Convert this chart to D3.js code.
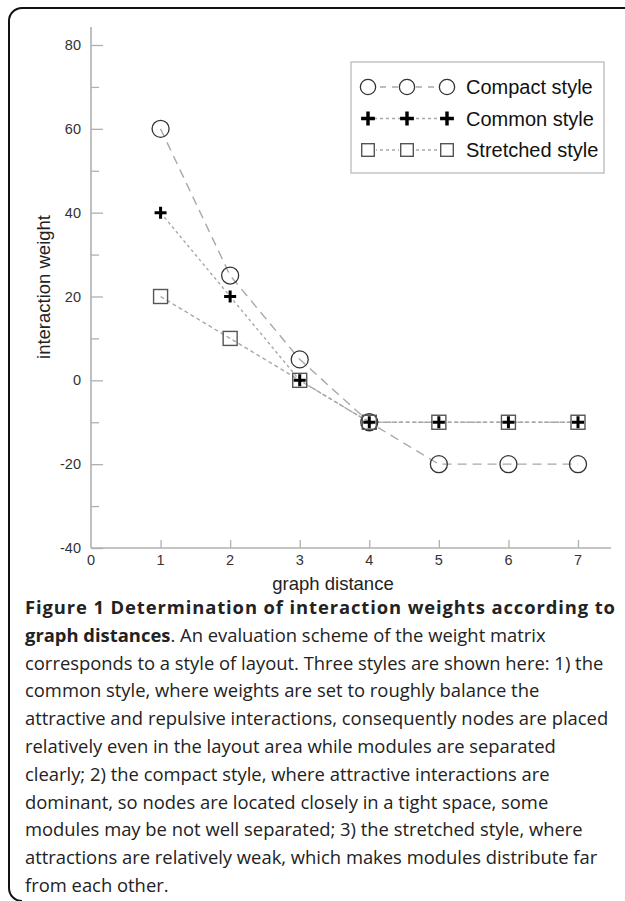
<!DOCTYPE html>
<html>
<head>
<meta charset="utf-8">
<script src="https://cdn.jsdelivr.net/npm/d3@7"></script>
<style>
    body { margin: 0; background: #fff; overflow: hidden; }
    svg { display: block; }
</style>
</head>
<body>
<div id="chart"></div>
<script>
// chart data
var distances = [1, 2, 3, 4, 5, 6, 7];
var compactStyle = [60, 25, 5, -10, -20, -20, -20];
var commonStyle = [40, 20, 0, -10, -10, -10, -10];
var stretchedStyle = [20, 10, 0, -10, -10, -10, -10];
var xTicks = [0, 1, 2, 3, 4, 5, 6, 7];
var yTicks = [-40, -20, 0, 20, 40, 60, 80];
var yMinorTicks = [-30, -10, 10, 30, 50, 70];
var legendLabels = ["Compact style", "Common style", "Stretched style"];

var captionLines = [
    [["b", "Figure 1 Determination of interaction weights according to"]],
    [["b", "graph distances"], ["n", ". An evaluation scheme of the weight matrix"]],
    [["n", "corresponds to a style of layout. Three styles are shown here: 1) the"]],
    [["n", "common style, where weights are set to roughly balance the"]],
    [["n", "attractive and repulsive interactions, consequently nodes are placed"]],
    [["n", "relatively even in the layout area while modules are separated"]],
    [["n", "clearly; 2) the compact style, where attractive interactions are"]],
    [["n", "dominant, so nodes are located closely in a tight space, some"]],
    [["n", "modules may be not well separated; 3) the stretched style, where"]],
    [["n", "attractions are relatively weak, which makes modules distribute far"]],
    [["n", "from each other."]]
];

var svgWidth = 625;
var svgHeight = 901;

var svg = d3.select("#chart")
    .append("svg")
    .attr("width", svgWidth)
    .attr("height", svgHeight);

// card frame: top and left edges with rounded corners
svg.append("path")
    .attr("d", "M625,8H22A13,13 0 0 0 9,21V888A13,13 0 0 0 22,901")
    .attr("fill", "none")
    .attr("stroke", "#111")
    .attr("stroke-width", 2);

// scales
var x = d3.scaleLinear().domain([0, 7]).range([91, 578]);
var y = d3.scaleLinear().domain([-40, 80]).range([548, 45]);

var axisColor = "#b0b0b0";
var chartFont = "'Liberation Sans', Arial, sans-serif";

// y axis (ticks point inside)
var yAxis = svg.append("g")
    .attr("transform", `translate(${x(0)}, 0)`)
    .call(d3.axisRight(y).tickValues(yTicks).tickSize(12).tickFormat(""));
yAxis.select(".domain").remove();
yAxis.selectAll("line").attr("stroke", axisColor).attr("stroke-width", 1.3);

var yMinor = svg.append("g")
    .attr("transform", `translate(${x(0)}, 0)`)
    .call(d3.axisRight(y).tickValues(yMinorTicks).tickSize(8).tickFormat(""));
yMinor.select(".domain").remove();
yMinor.selectAll("line").attr("stroke", axisColor).attr("stroke-width", 1.3);

svg.append("line")
    .attr("x1", x(0)).attr("x2", x(0))
    .attr("y1", 27).attr("y2", y(-40))
    .attr("stroke", axisColor)
    .attr("stroke-width", 1.6);

svg.selectAll(".ylabel")
    .data(yTicks)
    .enter()
    .append("text")
    .attr("class", "ylabel")
    .attr("x", x(0) - 10)
    .attr("y", d => y(d))
    .attr("dy", "0.35em")
    .attr("text-anchor", "end")
    .attr("font-family", chartFont)
    .attr("font-size", 14.5)
    .attr("fill", "#333")
    .text(d => d);

// x axis (ticks point up)
var xAxis = svg.append("g")
    .attr("transform", `translate(0, ${y(-40)})`)
    .call(d3.axisTop(x).tickValues(distances).tickSize(8).tickFormat(""));
xAxis.select(".domain").remove();
xAxis.selectAll("line").attr("stroke", axisColor).attr("stroke-width", 1.3);

svg.append("line")
    .attr("x1", x(0)).attr("x2", 611)
    .attr("y1", y(-40)).attr("y2", y(-40))
    .attr("stroke", axisColor)
    .attr("stroke-width", 1.6);

svg.selectAll(".xlabel")
    .data(xTicks)
    .enter()
    .append("text")
    .attr("class", "xlabel")
    .attr("x", d => x(d))
    .attr("y", y(-40) + 12)
    .attr("dy", "0.35em")
    .attr("text-anchor", "middle")
    .attr("font-family", chartFont)
    .attr("font-size", 14.5)
    .attr("fill", "#333")
    .text(d => d);

// axis titles
svg.append("text")
    .attr("transform", "translate(50, 287) rotate(-90)")
    .attr("text-anchor", "middle")
    .attr("font-family", chartFont)
    .attr("font-size", 18.5)
    .attr("fill", "#222")
    .text("interaction weight");

svg.append("text")
    .attr("x", 333)
    .attr("y", 590)
    .attr("text-anchor", "middle")
    .attr("font-family", chartFont)
    .attr("font-size", 18.5)
    .attr("fill", "#222")
    .text("graph distance");

// series
var series = [
    { name: legendLabels[0], values: compactStyle, marker: "circle", dash: "9,6" },
    { name: legendLabels[1], values: commonStyle, marker: "cross", dash: "3,3" },
    { name: legendLabels[2], values: stretchedStyle, marker: "square", dash: "4,3" }
];

var line = d3.line()
    .x((d, i) => x(distances[i]))
    .y(d => y(d));

svg.selectAll(".series-line")
    .data(series)
    .enter()
    .append("path")
    .attr("class", "series-line")
    .attr("d", d => line(d.values))
    .attr("fill", "none")
    .attr("stroke", "#a8a8a8")
    .attr("stroke-width", 1.4)
    .attr("stroke-dasharray", d => d.dash);

function drawMarker(g, type, cx, cy, scale) {
    if (type === "circle") {
        g.append("circle")
            .attr("cx", cx).attr("cy", cy)
            .attr("r", 8.5 * scale)
            .attr("fill", "none")
            .attr("stroke", "#333")
            .attr("stroke-width", 1.3);
    }
    else if (type === "square") {
        var s = 14 * scale;
        g.append("rect")
            .attr("x", cx - s / 2).attr("y", cy - s / 2)
            .attr("width", s).attr("height", s)
            .attr("fill", "none")
            .attr("stroke", "#555")
            .attr("stroke-width", 1.4);
    }
    else {
        var h = 6 * scale;
        g.append("path")
            .attr("d", `M${cx - h},${cy}H${cx + h}M${cx},${cy - h}V${cy + h}`)
            .attr("stroke", "#000")
            .attr("stroke-width", 3 * scale);
    }
}

var markerGroup = svg.append("g");
["circle", "square", "cross"].forEach(function(type) {
    var s = series.find(d => d.marker === type);
    s.values.forEach(function(v, i) {
        drawMarker(markerGroup, type, x(distances[i]), y(v), 1);
    });
});

// legend
var legend = svg.append("g");
legend.append("rect")
    .attr("x", 351).attr("y", 62)
    .attr("width", 253).attr("height", 111)
    .attr("fill", "#fff")
    .attr("stroke", "#bbb")
    .attr("stroke-width", 1.3);

var legendX = [368, 407, 447];
series.forEach(function(s, i) {
    var ly = 87 + i * 31.5;
    legend.append("line")
        .attr("x1", legendX[0]).attr("x2", legendX[2])
        .attr("y1", ly).attr("y2", ly)
        .attr("stroke", "#a8a8a8")
        .attr("stroke-width", 1.4)
        .attr("stroke-dasharray", s.marker === "circle" ? "6,6" : "3,3");
    legendX.forEach(function(lx) {
        if (s.marker !== "cross") {
            legend.append("rect")
                .attr("x", lx - 8).attr("y", ly - 8)
                .attr("width", 16).attr("height", 16)
                .attr("fill", "#fff");
        }
        drawMarker(legend, s.marker, lx, ly, s.marker === "cross" ? 1.15 : 0.9);
    });
    legend.append("text")
        .attr("x", 466)
        .attr("y", ly)
        .attr("dy", "0.35em")
        .attr("font-family", chartFont)
        .attr("font-size", 20)
        .attr("fill", "#111")
        .text(s.name);
});

// caption
var caption = svg.append("text")
    .attr("font-family", "'Open Sans', 'Noto Sans', sans-serif")
    .attr("font-size", 18.4)
    .attr("fill", "#222");

captionLines.forEach(function(parts, i) {
    var row = caption.append("tspan")
        .attr("x", 25)
        .attr("y", 614 + i * 27.8);
    if (i === 0) {
        row.attr("textLength", 590).attr("lengthAdjust", "spacing");
    }
    parts.forEach(function(p, j) {
        var t = j === 0 ? row : caption.append("tspan");
        t.text(p[1])
            .attr("font-weight", p[0] === "b" ? "bold" : "normal");
    });
});
</script>
</body>
</html>
